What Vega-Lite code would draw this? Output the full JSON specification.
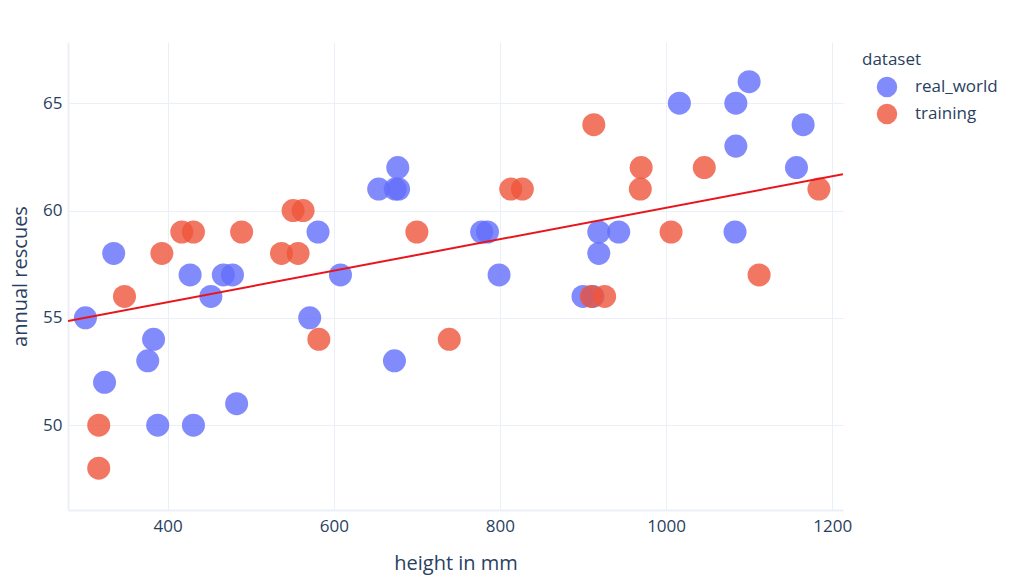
{
  "$schema": "https://vega.github.io/schema/vega-lite/v6.json",
  "width": 775,
  "height": 468,
  "autosize": {"type": "none"},
  "padding": {"left": 68, "top": 42, "right": 172, "bottom": 70},
  "background": "white",
  "config": {
    "font": "Open Sans",
    "view": {"stroke": null},
    "axis": {
      "domain": true,
      "domainColor": "#EBF0F8",
      "domainWidth": 2,
      "ticks": false,
      "gridColor": "#EBF0F8",
      "gridWidth": 1,
      "labelColor": "#2a3f5f",
      "labelFontSize": 17,
      "titleColor": "#2a3f5f",
      "titleFontSize": 20,
      "titleFontWeight": "normal"
    }
  },
  "datasets": {
    "points": [
      {"height": 301, "rescues": 55, "dataset": "real_world"},
      {"height": 324, "rescues": 52, "dataset": "real_world"},
      {"height": 335, "rescues": 58, "dataset": "real_world"},
      {"height": 376, "rescues": 53, "dataset": "real_world"},
      {"height": 383, "rescues": 54, "dataset": "real_world"},
      {"height": 388, "rescues": 50, "dataset": "real_world"},
      {"height": 427, "rescues": 57, "dataset": "real_world"},
      {"height": 431, "rescues": 50, "dataset": "real_world"},
      {"height": 452, "rescues": 56, "dataset": "real_world"},
      {"height": 467, "rescues": 57, "dataset": "real_world"},
      {"height": 478, "rescues": 57, "dataset": "real_world"},
      {"height": 483, "rescues": 51, "dataset": "real_world"},
      {"height": 571, "rescues": 55, "dataset": "real_world"},
      {"height": 581, "rescues": 59, "dataset": "real_world"},
      {"height": 608, "rescues": 57, "dataset": "real_world"},
      {"height": 654, "rescues": 61, "dataset": "real_world"},
      {"height": 674, "rescues": 61, "dataset": "real_world"},
      {"height": 678, "rescues": 61, "dataset": "real_world"},
      {"height": 677, "rescues": 62, "dataset": "real_world"},
      {"height": 673, "rescues": 53, "dataset": "real_world"},
      {"height": 778, "rescues": 59, "dataset": "real_world"},
      {"height": 785, "rescues": 59, "dataset": "real_world"},
      {"height": 799, "rescues": 57, "dataset": "real_world"},
      {"height": 900, "rescues": 56, "dataset": "real_world"},
      {"height": 912, "rescues": 56, "dataset": "real_world"},
      {"height": 919, "rescues": 59, "dataset": "real_world"},
      {"height": 919, "rescues": 58, "dataset": "real_world"},
      {"height": 943, "rescues": 59, "dataset": "real_world"},
      {"height": 1016, "rescues": 65, "dataset": "real_world"},
      {"height": 1084, "rescues": 65, "dataset": "real_world"},
      {"height": 1100, "rescues": 66, "dataset": "real_world"},
      {"height": 1084, "rescues": 63, "dataset": "real_world"},
      {"height": 1083, "rescues": 59, "dataset": "real_world"},
      {"height": 1165, "rescues": 64, "dataset": "real_world"},
      {"height": 1157, "rescues": 62, "dataset": "real_world"},
      {"height": 317, "rescues": 50, "dataset": "training"},
      {"height": 317, "rescues": 48, "dataset": "training"},
      {"height": 348, "rescues": 56, "dataset": "training"},
      {"height": 393, "rescues": 58, "dataset": "training"},
      {"height": 417, "rescues": 59, "dataset": "training"},
      {"height": 431, "rescues": 59, "dataset": "training"},
      {"height": 489, "rescues": 59, "dataset": "training"},
      {"height": 537, "rescues": 58, "dataset": "training"},
      {"height": 557, "rescues": 58, "dataset": "training"},
      {"height": 551, "rescues": 60, "dataset": "training"},
      {"height": 563, "rescues": 60, "dataset": "training"},
      {"height": 582, "rescues": 54, "dataset": "training"},
      {"height": 700, "rescues": 59, "dataset": "training"},
      {"height": 739, "rescues": 54, "dataset": "training"},
      {"height": 813, "rescues": 61, "dataset": "training"},
      {"height": 827, "rescues": 61, "dataset": "training"},
      {"height": 910, "rescues": 56, "dataset": "training"},
      {"height": 926, "rescues": 56, "dataset": "training"},
      {"height": 913, "rescues": 64, "dataset": "training"},
      {"height": 970, "rescues": 62, "dataset": "training"},
      {"height": 969, "rescues": 61, "dataset": "training"},
      {"height": 1006, "rescues": 59, "dataset": "training"},
      {"height": 1046, "rescues": 62, "dataset": "training"},
      {"height": 1112, "rescues": 57, "dataset": "training"},
      {"height": 1184, "rescues": 61, "dataset": "training"}
    ],
    "trend": [
      {"height": 280, "rescues": 54.85},
      {"height": 1213, "rescues": 61.69}
    ]
  },
  "encoding": {
    "x": {
      "field": "height",
      "type": "quantitative",
      "scale": {"domain": [280, 1213], "nice": false, "zero": false},
      "axis": {"title": "height in mm", "values": [400, 600, 800, 1000, 1200], "format": "d", "labelPadding": 8, "titlePadding": 19}
    },
    "y": {
      "field": "rescues",
      "type": "quantitative",
      "scale": {"domain": [46.05, 67.85], "nice": false, "zero": false},
      "axis": {"title": "annual rescues", "values": [50, 55, 60, 65], "labelPadding": 6, "titlePadding": 12}
    }
  },
  "layer": [
    {
      "data": {"name": "points"},
      "mark": {"type": "circle", "size": 530, "opacity": 0.8},
      "encoding": {
        "color": {
          "field": "dataset",
          "type": "nominal",
          "scale": {"domain": ["real_world", "training"], "range": ["#636efa", "#EF553B"]},
          "legend": {
            "title": "dataset",
            "orient": "none",
            "legendX": 794,
            "legendY": 10,
            "titleFontSize": 17,
            "titleFontWeight": "normal",
            "titleColor": "#2a3f5f",
            "titlePadding": 7,
            "labelFontSize": 17,
            "labelColor": "#2a3f5f",
            "labelOffset": 17,
            "symbolSize": 420,
            "symbolOpacity": 0.8,
            "symbolOffset": 14,
            "rowPadding": 5,
            "offset": 0
          }
        }
      }
    },
    {
      "data": {"name": "trend"},
      "mark": {"type": "line", "color": "#e8161c", "strokeWidth": 2, "clip": true},
      "encoding": {}
    }
  ]
}
